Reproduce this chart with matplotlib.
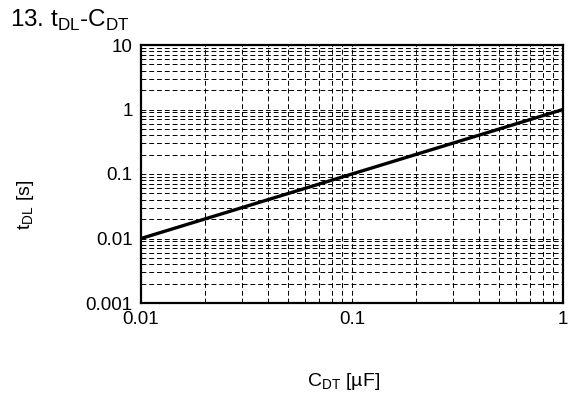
import matplotlib
matplotlib.use("Agg")
import matplotlib.pyplot as plt
from matplotlib.ticker import LogLocator, FixedLocator, FixedFormatter, NullFormatter

plt.rcParams['font.family'] = ['Liberation Sans', 'DejaVu Sans']
plt.rcParams['mathtext.fontset'] = 'custom'
plt.rcParams['mathtext.rm'] = 'Liberation Sans'

c_dt = [0.01, 1.0]
t_dl = [0.01, 1.0]
xticks = [0.01, 0.1, 1]
xtick_labels = ["0.01", "0.1", "1"]
yticks = [0.001, 0.01, 0.1, 1, 10]
ytick_labels = ["0.001", "0.01", "0.1", "1", "10"]

fig = plt.figure(figsize=(5.68, 3.99), dpi=100)
ax = fig.add_axes([141/568, 1 - 303/399, (563-141)/568, (303-45)/399])

ax.plot(c_dt, t_dl, color='black', lw=2.4, zorder=3, solid_capstyle='butt')
ax.set_xscale('log')
ax.set_yscale('log')
ax.set_xlim(0.01, 1)
ax.set_ylim(0.001, 10)

ax.xaxis.set_major_locator(FixedLocator(xticks))
ax.xaxis.set_major_formatter(FixedFormatter(xtick_labels))
ax.yaxis.set_major_locator(FixedLocator(yticks))
ax.yaxis.set_major_formatter(FixedFormatter(ytick_labels))
ax.xaxis.set_minor_locator(LogLocator(base=10, subs=range(2, 10)))
ax.yaxis.set_minor_locator(LogLocator(base=10, subs=range(2, 10)))
ax.xaxis.set_minor_formatter(NullFormatter())
ax.yaxis.set_minor_formatter(NullFormatter())

ax.grid(True, which='both', color='black', linestyle=(0, (5, 3)), linewidth=0.7)
ax.tick_params(which='both', length=0, labelsize=13.5)
ax.tick_params(axis='y', pad=6)
ax.tick_params(axis='x', pad=6)
for s in ax.spines.values():
    s.set_linewidth(1.6)

fig.text(10/568, 1 - 20/399, "13. t$_{\\mathrm{DL}}$-C$_{\\mathrm{DT}}$", fontsize=17.5, va='center', ha='left')
fig.text(344/568, 1 - 381/399, "C$_{\\mathrm{DT}}$ [µF]", fontsize=14, ha='center', va='center')
fig.text(25/568, 1 - 205/399, "t$_{\\mathrm{DL}}$ [s]", fontsize=14, ha='center', va='center', rotation=90)

fig.savefig("out.png", dpi=100)
